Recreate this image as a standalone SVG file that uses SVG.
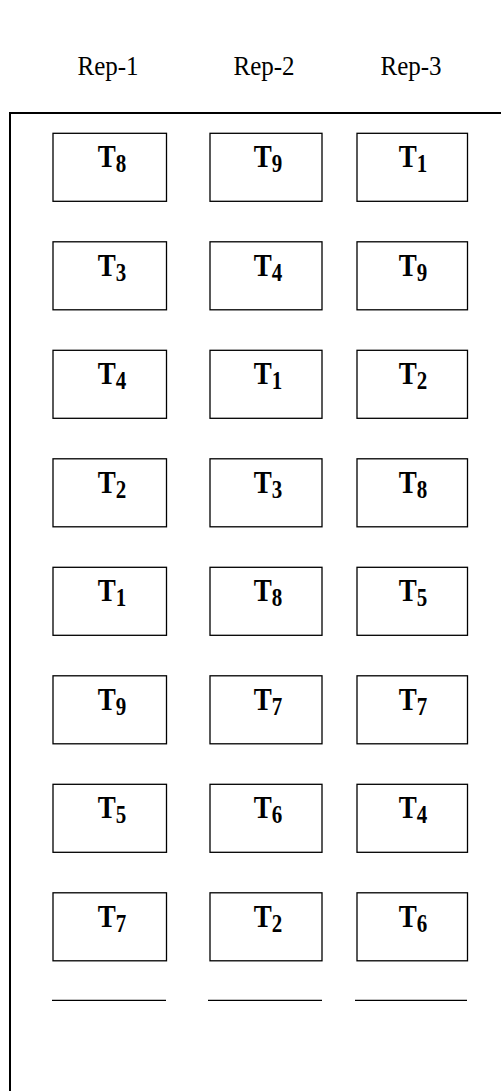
<svg xmlns="http://www.w3.org/2000/svg" width="501" height="1091" viewBox="0 0 501 1091">
<style>
.hdr{font-family:"Liberation Serif","Times New Roman",serif;font-size:25px;fill:#000;text-anchor:middle}
.lbl{font-family:"Liberation Serif","Times New Roman",serif;font-weight:bold;font-size:27px;fill:#000;text-anchor:middle}
.sub{font-size:21px}
.box{fill:#fff;stroke:#000;stroke-width:1.3}
.frame{fill:none;stroke:#000;stroke-width:2}
.base{stroke:#000;stroke-width:1.3}
</style>
<rect width="501" height="1091" fill="#fff"/>
<g id="frame">
<path class="frame" d="M10,1091 V113 H501"/>
</g>
<g id="headers">
<text class="hdr" transform="translate(108,75) scale(1,1.08)">Rep-1</text>
<text class="hdr" transform="translate(264,75) scale(1,1.08)">Rep-2</text>
<text class="hdr" transform="translate(411,75) scale(1,1.08)">Rep-3</text>
</g>
<defs>
<rect id="b1" class="box" x="53" y="0" width="113.5" height="68"/>
<rect id="b2" class="box" x="210" y="0" width="112" height="68"/>
<rect id="b3" class="box" x="357" y="0" width="110.5" height="68"/>
</defs>
<g id="r1" transform="translate(0,133.3)">
<g id="n-1-1"><use href="#b1"/><text class="lbl" transform="translate(112,34) scale(1,1.2)">T<tspan class="sub" dy="4">8</tspan></text></g>
<g id="n-1-2"><use href="#b2"/><text class="lbl" transform="translate(268,34) scale(1,1.2)">T<tspan class="sub" dy="4">9</tspan></text></g>
<g id="n-1-3"><use href="#b3"/><text class="lbl" transform="translate(413,34) scale(1,1.2)">T<tspan class="sub" dy="4">1</tspan></text></g>
</g>
<g id="r2" transform="translate(0,241.8)">
<g id="n-2-1"><use href="#b1"/><text class="lbl" transform="translate(112,34) scale(1,1.2)">T<tspan class="sub" dy="4">3</tspan></text></g>
<g id="n-2-2"><use href="#b2"/><text class="lbl" transform="translate(268,34) scale(1,1.2)">T<tspan class="sub" dy="4">4</tspan></text></g>
<g id="n-2-3"><use href="#b3"/><text class="lbl" transform="translate(413,34) scale(1,1.2)">T<tspan class="sub" dy="4">9</tspan></text></g>
</g>
<g id="r3" transform="translate(0,350.3)">
<g id="n-3-1"><use href="#b1"/><text class="lbl" transform="translate(112,34) scale(1,1.2)">T<tspan class="sub" dy="4">4</tspan></text></g>
<g id="n-3-2"><use href="#b2"/><text class="lbl" transform="translate(268,34) scale(1,1.2)">T<tspan class="sub" dy="4">1</tspan></text></g>
<g id="n-3-3"><use href="#b3"/><text class="lbl" transform="translate(413,34) scale(1,1.2)">T<tspan class="sub" dy="4">2</tspan></text></g>
</g>
<g id="r4" transform="translate(0,458.8)">
<g id="n-4-1"><use href="#b1"/><text class="lbl" transform="translate(112,34) scale(1,1.2)">T<tspan class="sub" dy="4">2</tspan></text></g>
<g id="n-4-2"><use href="#b2"/><text class="lbl" transform="translate(268,34) scale(1,1.2)">T<tspan class="sub" dy="4">3</tspan></text></g>
<g id="n-4-3"><use href="#b3"/><text class="lbl" transform="translate(413,34) scale(1,1.2)">T<tspan class="sub" dy="4">8</tspan></text></g>
</g>
<g id="r5" transform="translate(0,567.3)">
<g id="n-5-1"><use href="#b1"/><text class="lbl" transform="translate(112,34) scale(1,1.2)">T<tspan class="sub" dy="4">1</tspan></text></g>
<g id="n-5-2"><use href="#b2"/><text class="lbl" transform="translate(268,34) scale(1,1.2)">T<tspan class="sub" dy="4">8</tspan></text></g>
<g id="n-5-3"><use href="#b3"/><text class="lbl" transform="translate(413,34) scale(1,1.2)">T<tspan class="sub" dy="4">5</tspan></text></g>
</g>
<g id="r6" transform="translate(0,675.8)">
<g id="n-6-1"><use href="#b1"/><text class="lbl" transform="translate(112,34) scale(1,1.2)">T<tspan class="sub" dy="4">9</tspan></text></g>
<g id="n-6-2"><use href="#b2"/><text class="lbl" transform="translate(268,34) scale(1,1.2)">T<tspan class="sub" dy="4">7</tspan></text></g>
<g id="n-6-3"><use href="#b3"/><text class="lbl" transform="translate(413,34) scale(1,1.2)">T<tspan class="sub" dy="4">7</tspan></text></g>
</g>
<g id="r7" transform="translate(0,784.3)">
<g id="n-7-1"><use href="#b1"/><text class="lbl" transform="translate(112,34) scale(1,1.2)">T<tspan class="sub" dy="4">5</tspan></text></g>
<g id="n-7-2"><use href="#b2"/><text class="lbl" transform="translate(268,34) scale(1,1.2)">T<tspan class="sub" dy="4">6</tspan></text></g>
<g id="n-7-3"><use href="#b3"/><text class="lbl" transform="translate(413,34) scale(1,1.2)">T<tspan class="sub" dy="4">4</tspan></text></g>
</g>
<g id="r8" transform="translate(0,892.8)">
<g id="n-8-1"><use href="#b1"/><text class="lbl" transform="translate(112,34) scale(1,1.2)">T<tspan class="sub" dy="4">7</tspan></text></g>
<g id="n-8-2"><use href="#b2"/><text class="lbl" transform="translate(268,34) scale(1,1.2)">T<tspan class="sub" dy="4">2</tspan></text></g>
<g id="n-8-3"><use href="#b3"/><text class="lbl" transform="translate(413,34) scale(1,1.2)">T<tspan class="sub" dy="4">6</tspan></text></g>
</g>
<g id="baselines">
<line class="base" x1="52" y1="1000.3" x2="166" y2="1000.3"/>
<line class="base" x1="208" y1="1000.3" x2="322" y2="1000.3"/>
<line class="base" x1="355" y1="1000.3" x2="467" y2="1000.3"/>
</g>
<g id="connectors"/>
</svg>
